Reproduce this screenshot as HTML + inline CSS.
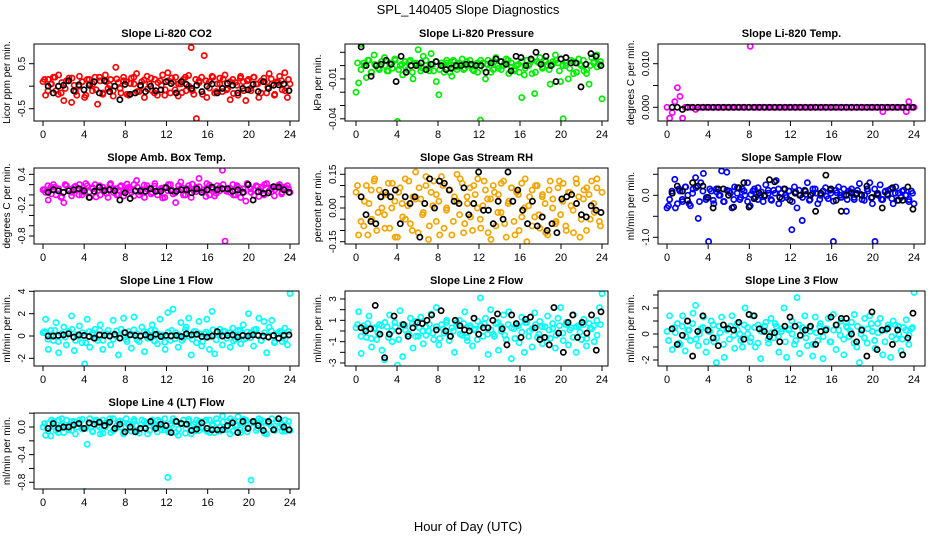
<!DOCTYPE html>
<html><head><meta charset="utf-8"><style>
html,body{margin:0;padding:0;background:#fff;}
svg{display:block;font-family:"Liberation Sans",sans-serif;}
</style></head><body>
<svg id="chart" width="936" height="540" viewBox="0 0 936 540">
<rect width="936" height="540" fill="#fff"/>
<text x="468" y="14" text-anchor="middle" font-size="13">SPL_140405  Slope Diagnostics</text>
<text x="468" y="531" text-anchor="middle" font-size="13">Hour of Day (UTC)</text>
</svg>
<script>
const xTicks=[0,4,8,12,16,20,24];
const co2Main=[0.1,-0.2,0.15,0.05,0.2,-0.1,0.25,-0.15,-0.32,0.12,0.18,-0.36,0.02,-0.2,0.22,0.1,-0.25,0.15,0.05,-0.1,0.2,-0.4,0.12,-0.18,0.25,-0.05,0.15,-0.22,0.42,0.08,-0.15,0.2,0.1,-0.2,0.18,0.05,0.28,-0.12,0.1,-0.25,0.22,0.05,-0.1,0.15,-0.2,0.12,0.25,-0.08,0.3,-0.15,0.1,0.2,-0.22,0.05,0.15,-0.1,0.24,0.86,-0.18,-0.72,0.12,0.2,0.68,-0.25,0.1,0.22,-0.15,0.05,0.18,-0.12,0.25,-0.05,-0.3,0.15,0.08,-0.2,0.22,0.1,-0.32,0.15,-0.1,0.2,0.05,-0.25,0.12,0.18,-0.15,0.28,0.05,-0.2,0.1,0.22,-0.08,0.3,-0.25,0.05];
const co2Band=[0.15,-0.1,0.05,0.2,-0.18,0.08,-0.05,0.12,0.18,-0.12,0.0,0.1,-0.2,0.15,0.05,-0.08,0.2,-0.15,0.1,0.02,-0.1,0.16,-0.05,0.12,-0.18,0.06,0.2,-0.12,0.0,0.14,-0.06,0.18,-0.15,0.08,0.02,-0.2,0.12,0.18,-0.08,0.05,-0.14,0.2,0.0,-0.1,0.15,0.08,-0.18,0.12,-0.04,0.2,-0.12,0.05,0.16,-0.08,0.1,-0.16,0.02,0.18,-0.1,0.12,-0.05,0.2,0.05,-0.15,0.1,-0.02,0.16,-0.18,0.08,0.12,-0.1,0.15];
const co2Black=[0,-0.15,0,0.02,0.12,-0.1,0.03,-0.08,0.02,0.1,-0.15,0.12,-0.12,0,-0.3,0.04,-0.18,-0.15,0.02,-0.12,0,-0.1,-0.08,0.1,0.06,-0.15,0.1,0.04,-0.05,0.02,-0.12,0,0.05,-0.15,-0.05,0.06,0.02,-0.15,-0.05,-0.08,0.04,-0.12,0.1,-0.05,0.02,0.03,0.05,-0.1];
const presMain=[-0.02,-0.013,0.016,0.002,-0.009,0.004,-0.005,0.008,0.0,-0.003,0.003,0.006,-0.004,0.002,-0.002,0.005,-0.042,0.0,-0.007,0.003,-0.003,0.004,-0.01,0.001,0.012,-0.004,0.007,0.0,-0.002,0.009,-0.004,-0.012,-0.022,0.002,-0.005,0.004,0.0,-0.008,0.003,-0.003,0.002,0.005,-0.002,0.0,0.004,-0.003,0.001,-0.005,-0.041,0.002,-0.01,0.004,0.0,-0.003,0.006,-0.002,0.003,0.0,0.005,-0.006,0.002,-0.003,0.0,-0.005,-0.024,-0.007,0.004,0.001,-0.006,-0.021,0.003,0.006,-0.002,0.004,0.0,-0.014,0.003,0.008,0.002,-0.012,-0.04,0.0,-0.01,0.004,-0.006,0.002,0.005,0.0,-0.004,-0.006,-0.014,0.006,0.003,0.008,0.001,-0.025];
const presBand=[0.002,-0.003,0.0,0.004,-0.005,0.001,-0.002,0.003,0.0,-0.004,0.002,0.004,-0.003,0.001,-0.001,0.003,-0.005,0.002,0.0,-0.002,0.004,-0.004,0.001,0.003,-0.003,0.0,0.002,-0.005,0.004,-0.001,0.001,-0.003,0.003,0.0,-0.004,0.002,0.004,-0.002,0.001,-0.005,0.003,0.0,-0.003,0.002,0.004,-0.001,-0.004,0.001,0.003,-0.002,0.0,0.004,-0.005,0.002,-0.001,0.003,-0.003,0.001,0.004,-0.004,0.0,0.002,-0.002,0.003,-0.005,0.001,0.004,-0.003,0.0,0.002,-0.001,0.003];
const presBlack=[0.014,0,-0.008,0,0.001,0.004,0.001,-0.012,0.007,-0.005,0,0,0.002,-0.003,0.001,0.003,0,-0.003,-0.002,0.0,0.0,0.001,0.001,0.0,0.0,-0.005,0.002,0.005,0.003,0.001,-0.004,0.007,0.006,0.0,0.005,0.010,0.001,0.007,0.0,-0.012,0.005,0.006,0.002,0.002,-0.016,0.001,0.009,0.007,0.0];
const tempMain=[0,-0.0025,-0.0012,0.0013,0.0045,0.0025,-0.0025,0,0,0,0,-0.0005,0,0,0,0,0,0,0,0,0,0,0,0,0,0,0,0,0,0,0,0,0.014,0,0,0,0,0,0,0,0,0,0,0,0,0,0,0,0,0,0,0,0,0,0,0,0,0,0,0,0,0,0,0,0,0,0,0,0,0,0,0,0,0,0,0,0,0,0,0,0,0,0,-0.001,0,0,0,0,0,0,0,0,-0.001,0.0013,0,0];
const tempBand=[];
const tempBlack=[0,0,-0.0005,0,0,0,0,0,0,0,0,0,0,0,0,0,0,0,0,0,0,0,0,0,0,0,0,0,0,0,0,0,0,0,0,0,0,0,0,0,0,0,0,0,0,0,0,0];
const ambMain=[0.1,0.05,-0.1,0.15,0.2,0.0,0.12,-0.05,-0.15,0.18,0.08,-0.02,0.15,0.1,0.2,0.0,0.05,0.18,-0.05,0.12,0.2,0.08,0.0,0.15,0.1,-0.05,0.22,0.05,0.12,0.0,0.18,-0.02,0.1,0.15,0.05,0.2,0.28,0.0,0.1,-0.05,0.18,0.12,0.05,0.22,0.0,0.1,-0.06,0.15,0.08,0.2,0.02,-0.15,0.1,0.25,0.0,0.12,0.18,-0.05,0.08,0.15,0.32,0.05,0.1,0.22,0.0,0.12,-0.02,0.18,0.08,0.48,-0.9,0.1,0.05,0.2,0.0,0.15,-0.05,0.12,-0.12,0.2,0.05,0.1,0.18,-0.03,0.15,0.0,0.22,0.08,0.12,-0.02,0.15,0.2,0.05,0.1,0.18,0.05];
const ambBand=[0.1,0.18,0.02,0.15,0.08,-0.03,0.2,0.12,0.05,0.17,0.0,0.1,0.22,0.06,0.14,-0.04,0.18,0.09,0.03,0.2,0.12,0.0,0.16,0.07,0.21,0.1,-0.02,0.15,0.05,0.19,0.11,0.02,0.17,0.08,0.13,-0.05,0.2,0.1,0.04,0.18,0.14,0.0,0.12,0.21,0.06,0.16,0.09,-0.03,0.19,0.11,0.03,0.15,0.2,0.07,0.13,0.0,0.18,0.1,0.05,0.22,0.12,-0.01,0.16,0.08,0.2,0.04,0.14,0.1,0.18,0.02,0.15,0.12];
const ambBlack=[0.05,0.1,0.08,0.05,0.08,0.1,0.12,0.08,-0.05,0.07,0.15,0.08,0.1,0.08,-0.1,0.04,-0.07,0.08,0.08,0.07,0.12,0.07,0.07,0.14,0.08,0.07,0.1,0.1,0.04,0.12,0.05,0.1,0.15,0.1,0.12,0.12,0.07,0.1,0.05,0.2,-0.1,0.06,0.03,0.04,0.16,0.15,0.1,0.05];
const rhMain=[0.07,-0.12,0.05,-0.08,0.1,0.02,-0.05,0.12,-0.1,0.08,0.0,-0.03,0.06,-0.09,0.11,0.03,-0.13,0.09,-0.04,0.13,0.01,-0.07,0.05,0.16,-0.11,0.04,-0.02,0.1,-0.14,0.07,0.12,-0.06,0.03,0.14,-0.09,0.0,0.08,-0.12,0.05,0.15,-0.03,0.11,-0.07,0.02,0.09,-0.1,0.06,0.13,-0.05,0.01,0.08,-0.11,0.04,0.1,-0.08,0.06,-0.02,0.12,-0.13,0.03,0.09,-0.06,0.07,-0.1,0.11,0.0,-0.15,0.05,0.08,-0.04,0.1,-0.09,0.06,0.02,-0.12,0.12,0.04,-0.07,0.09,-0.03,0.11,-0.08,0.07,0.01,-0.11,0.13,0.05,-0.05,0.08,-0.1,0.06,0.12,-0.02,0.09,-0.06,0.07];
const rhBand=[0.1,-0.06,0.03,-0.12,0.08,0.13,-0.02,0.05,-0.09,0.11,0.0,-0.13,0.07,0.02,-0.05,0.12,-0.1,0.04,0.09,-0.03,0.14,-0.08,0.01,0.06,-0.12,0.1,-0.01,0.08,-0.06,0.03,0.13,-0.11,0.05,-0.04,0.1,0.0,-0.09,0.12,0.04,-0.14,0.07,-0.02,0.11,-0.07,0.02,0.09,-0.12,0.06,-0.04,0.13,0.01,-0.08,0.1,-0.03,0.05,-0.11,0.08,0.0,-0.06,0.12,0.03,-0.1,0.07,-0.01,0.11,-0.13,0.04,0.09,-0.05,0.02,0.13,-0.08];
const rhBlack=[0.05,-0.03,-0.06,-0.07,0.05,0.07,0.05,0.08,-0.07,0.05,0.02,0.05,-0.13,0.02,0.13,0.0,0.12,0.11,0.08,0.03,0.02,0.09,-0.03,0.02,0.16,-0.01,-0.01,-0.07,0.03,-0.05,0.16,0.03,0.08,-0.01,-0.07,0.03,-0.08,-0.04,-0.1,-0.07,-0.11,0.04,0.05,0.06,0.02,-0.03,-0.04,0.01,-0.01,-0.02];
const flowMain=[-0.3,-0.1,0.05,0.38,-0.2,0.1,-0.15,0.2,0.0,-0.25,0.15,0.42,-0.55,0.3,0.52,-0.1,-1.1,0.1,-0.2,0.15,0.0,0.58,-0.15,0.55,0.1,-0.3,0.2,0.05,-0.1,0.15,0.0,0.3,-0.25,0.1,-0.05,0.18,0.0,-0.15,0.25,0.05,-0.1,0.12,0.35,-0.2,0.05,0.15,-0.05,0.1,-0.82,0.2,-0.3,0.0,-0.6,0.12,0.3,-0.1,0.05,0.15,-0.2,0.0,0.1,0.18,-0.08,0.05,-1.1,0.12,0.2,-0.05,0.0,-0.38,0.1,0.15,-0.1,0.05,0.28,-0.1,0.0,0.15,0.3,-0.2,-1.1,0.05,0.25,-0.1,0.1,0.0,0.15,-0.2,0.2,0.05,-0.05,0.12,0.0,-0.15,0.1,-0.2];
const flowBand=[-0.25,0.1,-0.3,0.15,-0.1,0.2,-0.2,0.05,0.18,-0.15,0.1,-0.05,0.15,-0.12,0.08,0.0,-0.15,0.12,0.05,-0.1,0.18,-0.05,0.1,-0.15,0.02,0.15,-0.1,0.08,-0.02,0.12,-0.12,0.05,0.15,-0.08,0.0,0.1,-0.15,0.08,0.12,-0.05,0.02,-0.12,0.15,0.05,-0.1,0.1,-0.02,0.12,-0.14,0.06,0.0,0.15,-0.1,0.08,-0.05,0.12,0.02,-0.12,0.1,-0.06,0.15,0.0,-0.1,0.08,0.12,-0.08,0.05,-0.12,0.1,0.0,-0.1,0.05];
const flowBlack=[0.05,0.22,0.1,-0.12,0.3,0.22,0.22,-0.05,-0.3,0.15,0.15,0.0,-0.28,0.18,0.3,-0.28,-0.08,0.05,0.0,0.37,0.32,-0.05,0.15,-0.12,0.05,0.0,0.1,0.0,-0.38,0.05,0.48,0.15,-0.12,-0.38,0.0,0.05,0.03,0.0,0.22,-0.05,0.03,-0.3,0.03,0.18,-0.12,-0.12,0.2,-0.33];
const l1Main=[0.3,1.5,-1.2,0.5,-0.4,1.2,-1.5,0.2,0.8,-0.8,0.4,1.8,-1.3,0.1,0.9,-0.6,-2.5,1.5,-1.0,0.3,0.6,-0.4,1.0,-1.2,0.2,0.5,-0.8,1.4,0.0,-1.7,0.6,1.6,-0.3,0.4,-1.1,1.7,0.2,-0.5,0.8,-1.4,0.3,-0.2,1.0,0.5,-0.7,1.5,0.1,-1.2,2.1,-0.4,2.4,0.3,-1.0,1.2,-0.2,0.8,1.6,-1.7,0.4,-0.6,1.3,-0.9,0.2,1.5,-1.2,2.2,-1.6,0.3,0.6,-0.8,0.4,0.1,-1.0,0.7,-0.3,0.5,-0.7,1.0,-0.2,2.0,0.3,-0.9,0.6,1.6,-0.4,1.3,-1.5,0.8,1.4,-0.6,0.2,0.4,-0.5,0.7,-0.8,3.8];
const l1Band=[0.4,-0.3,0.1,0.5,-0.5,0.2,-0.1,0.3,0.6,-0.4,0.0,0.3,-0.6,0.4,0.1,-0.2,0.5,-0.4,0.2,0.0,-0.3,0.45,-0.15,0.3,-0.5,0.15,0.55,-0.35,0.0,0.4,-0.2,0.5,-0.45,0.2,0.05,-0.55,0.35,0.5,-0.25,0.1,-0.4,0.55,0.0,-0.3,0.4,0.2,-0.5,0.35,-0.1,0.55,-0.35,0.15,0.45,-0.2,0.3,-0.45,0.05,0.5,-0.3,0.35,-0.15,0.55,0.1,-0.4,0.3,-0.05,0.45,-0.5,0.2,0.35,-0.3,0.4];
const l1Black=[0,0,0.05,0.1,0.2,-0.1,0.1,0.05,-0.05,-0.2,0.1,0.05,0,0.15,-0.2,0.3,0.1,0.05,0,0.1,-0.1,0.15,-0.05,0.05,0,0.05,-0.05,0.2,0.1,0.15,-0.05,-0.1,0,0.4,0,0.05,0.1,-0.1,0.05,0,0.1,0.05,0,-0.1,0.05,-0.2,0.05,0.1];
const l2Main=[0.3,1.8,-2.1,0.5,-0.6,1.4,-1.5,0.2,-0.8,0.6,-1.8,-2.7,0.4,1.5,-1.0,0.8,-3.2,1.9,-2.4,0.5,-0.3,1.2,-1.6,0.9,-0.5,1.3,-1.2,0.4,0.0,1.6,-0.8,2.2,-1.3,0.6,-0.2,1.0,-0.9,0.3,-2.0,0.8,1.0,-0.4,1.8,-0.9,0.5,-1.4,0.2,0.9,3.1,-0.5,1.2,-2.2,2.0,-0.3,0.7,-1.8,0.4,1.5,-0.8,1.8,-2.6,0.2,0.6,-1.1,1.3,-2.0,0.8,0.0,-1.5,1.7,-0.6,0.9,-1.2,0.4,1.4,-0.7,0.2,-1.6,1.2,2.2,-0.9,0.6,-1.3,0.3,1.5,-2.0,0.5,-0.8,1.1,-1.4,0.7,0.2,-1.0,1.0,2.2,3.5];
const l2Band=[0.6,-0.5,0.2,0.7,-0.7,0.3,-0.2,0.5,0.8,-0.6,0.0,0.4,-0.8,0.6,0.1,-0.3,0.7,-0.5,0.3,0.0,-0.4,0.6,-0.2,0.4,-0.7,0.2,0.8,-0.5,0.0,0.5,-0.3,0.7,-0.6,0.3,0.1,-0.8,0.5,0.7,-0.3,0.1,-0.5,0.8,0.0,-0.4,0.6,0.3,-0.7,0.5,-0.1,0.8,-0.5,0.2,0.6,-0.3,0.4,-0.6,0.1,0.7,-0.4,0.5,-0.2,0.8,0.1,-0.6,0.4,-0.1,0.6,-0.7,0.3,0.5,-0.4,0.6];
const l2Black=[0.3,0.0,0.2,2.4,-0.3,-2.5,-0.3,1.4,0.0,0.6,-0.5,0.3,0.8,0.7,1.0,1.5,0.1,1.9,0.0,-0.5,1.0,0.5,0.1,0.0,1.2,-0.3,0.3,0.3,1.0,1.6,0.2,-1.3,1.5,0.7,-0.6,1.1,1.3,0.3,-0.8,-0.6,-1.3,2.2,-0.2,-2.0,0.8,1.5,-0.6,0.8,-0.2,1.5,-1.8,1.8];
const l3Main=[0.2,1.4,-1.2,0.5,0.8,-0.8,1.4,-1.3,0.3,-0.5,1.6,2.2,-0.9,0.4,1.3,-1.4,0.2,1.0,-0.6,-2.2,0.6,1.3,-1.8,0.3,-0.4,1.4,-1.1,0.8,0.0,-1.0,2.0,0.5,-0.6,1.4,-1.0,0.7,-1.9,0.3,0.9,-0.7,1.2,-0.3,0.6,-1.4,0.2,2.0,-1.8,0.4,1.0,-0.8,2.8,-1.5,0.5,1.4,-0.9,0.2,-1.7,1.3,-0.5,0.8,-1.9,0.4,1.2,-0.6,1.5,-1.2,0.3,1.0,-1.6,0.6,-0.2,0.9,1.5,-1.0,-2.2,0.4,1.2,-0.7,1.4,0.2,-1.1,0.8,1.2,-1.6,0.3,0.7,-1.8,1.0,-0.4,0.6,-1.3,0.5,1.1,-0.8,0.4,3.2];
const l3Band=[-0.5,0.4,0.1,-0.7,0.6,-0.2,0.3,0.8,-0.4,0.0,0.5,-0.6,0.2,0.7,-0.3,0.1,-0.8,0.4,0.6,-0.1,0.3,-0.5,0.7,0.0,-0.3,0.5,-0.7,0.2,0.6,-0.4,0.1,0.8,-0.2,0.4,-0.6,0.3,0.0,-0.5,0.7,0.2,-0.3,0.5,-0.8,0.1,0.6,-0.2,0.4,-0.6,0.3,0.7,-0.1,-0.4,0.5,0.2,-0.7,0.6,0.0,-0.3,0.4,0.8,-0.5,0.1,0.3,-0.6,0.5,-0.2,0.7,0.0,-0.4,0.3,-0.1,0.5];
const l3Black=[0.4,-0.8,-0.1,1.0,-1.7,0.2,1.4,0.3,-0.3,-0.9,0.7,0.4,0.3,0.9,-0.4,1.5,1.4,0.4,0.2,-0.2,0.1,-0.6,0.6,1.3,0.6,-0.1,0.3,0.6,-0.8,0.2,0.3,1.3,0.7,1.2,1.2,0.0,-0.6,0.3,-1.7,1.7,-1.2,0.3,0.4,-0.8,0.3,-1.6,-0.3,1.6];
const l4Main=[0.0,-0.12,0.05,-0.13,0.08,-0.05,0.1,0.02,-0.08,0.1,0.03,-0.05,0.08,0.0,0.1,-0.03,-0.93,-0.25,0.12,-0.06,0.08,0.02,-0.1,0.1,0.0,0.05,-0.08,0.12,-0.02,0.08,0.0,-0.1,0.12,0.04,-0.06,0.08,0.02,-0.09,0.1,0.0,0.06,-0.05,0.1,0.02,-0.07,0.08,0.0,-0.04,-0.73,0.05,0.12,-0.08,-0.12,0.06,0.1,-0.02,0.08,-0.1,0.04,0.1,-0.05,0.0,0.08,-0.06,0.1,0.02,-0.08,0.06,0.0,0.16,-0.04,0.08,0.12,-0.06,0.02,0.15,-0.08,0.05,0.1,-0.02,-0.77,0.06,-0.05,0.12,0.0,0.08,-0.1,0.05,0.12,-0.03,0.08,0.0,-0.06,0.1,0.02,-0.05];
const l4Band=[0.05,-0.06,0.1,0.0,-0.08,0.12,0.03,-0.04,0.08,-0.1,0.06,0.11,-0.02,0.04,-0.07,0.1,0.0,-0.09,0.07,0.12,-0.05,0.02,0.09,-0.08,0.05,-0.01,0.11,-0.06,0.03,0.08,-0.1,0.06,0.0,0.1,-0.04,0.12,-0.07,0.02,0.09,-0.03,0.05,-0.09,0.11,0.01,-0.05,0.08,-0.02,0.1,-0.08,0.04,0.12,-0.06,0.07,0.0,-0.1,0.09,0.03,-0.04,0.11,-0.07,0.05,0.08,-0.02,0.1,-0.09,0.06,0.01,-0.05,0.12,0.03,-0.06,0.08];
const l4Black=[-0.02,0.05,-0.02,0.0,0.0,0.03,0.05,-0.02,0.06,0.04,0.07,0.02,0.07,-0.02,0.04,-0.07,0.0,-0.07,-0.02,-0.02,0.08,-0.02,0.04,0.02,-0.08,0.08,0.05,0.04,-0.05,-0.03,0.06,-0.02,-0.04,-0.04,-0.04,0.02,0.06,-0.08,0.08,-0.02,0.08,0.02,-0.05,0.08,-0.04,0.12,0.0,-0.04];
const co2Ticks=[0.5,0,-0.5], co2Labels=["0.5","","-0.5"];
const presTicks=[0.01,0,-0.01,-0.02,-0.03,-0.04], presLabels=["","","-0.01","","","-0.04"];
const tempTicks=[0.01,0.005,0], tempLabels=["0.010","","0.000"];
const ambTicks=[0.4,0.2,0,-0.2,-0.4,-0.6,-0.8], ambLabels=["0.4","","","-0.2","","","-0.8"];
const rhTicks=[0.15,0.1,0.05,0,-0.05,-0.1,-0.15], rhLabels=["0.15","","","0.00","","","-0.15"];
const flowTicks=[0.5,0,-0.5,-1], flowLabels=["","0.0","","-1.0"];
const l1Ticks=[4,2,0,-2], l1Labels=["4","2","0","-2"];
const l2Ticks=[3,2,1,0,-1,-2,-3], l2Labels=["3","","1","","-1","","-3"];
const l3Ticks=[3,2,1,0,-1,-2], l3Labels=["","2","","0","","-2"];
const l4Ticks=[0.2,0,-0.2,-0.4,-0.6,-0.8], l4Labels=["","0.0","","-0.4","","-0.8"];

const NS="http://www.w3.org/2000/svg";
const svg=document.getElementById('chart');
function mk(tag,attrs,parent){const e=document.createElementNS(NS,tag);for(const k in attrs)e.setAttribute(k,attrs[k]);(parent||svg).appendChild(e);return e;}
const cols=[{b0:34,b1:299,x0:43,x24:290},{b0:345,b1:608,x0:356,x24:602},{b0:658,b1:925,x0:667,x24:914}];
const rows=[{t:44,b:121},{t:168,b:244},{t:291,b:366},{t:413,b:489}];
const panels=[
 {name:'co2',title:'Slope Li-820 CO2',ylab:'Licor ppm per min.',c:0,r:0,z:86.2,k:45,main:co2Main,band:co2Band,black:co2Black,color:'#ff0000',ticks:co2Ticks,labels:co2Labels},
 {name:'pressure',title:'Slope Li-820 Pressure',ylab:'kPa per min.',c:1,r:0,z:65.6,k:1330,main:presMain,band:presBand,black:presBlack,color:'#00ee00',ticks:presTicks,labels:presLabels},
 {name:'temp',title:'Slope Li-820 Temp.',ylab:'degrees C per min.',c:2,r:0,z:107.3,k:4360,main:tempMain,band:tempBand,black:tempBlack,color:'#ff00ff',ticks:tempTicks,labels:tempLabels},
 {name:'amb-temp',title:'Slope Amb. Box Temp.',ylab:'degrees C per min.',c:0,r:1,z:194.9,k:51.4,main:ambMain,band:ambBand,black:ambBlack,color:'#ff00ff',ticks:ambTicks,labels:ambLabels},
 {name:'gas-rh',title:'Slope Gas Stream RH',ylab:'percent per min.',c:1,r:1,z:208,k:224.7,main:rhMain,band:rhBand,black:rhBlack,color:'#f7a400',ticks:rhTicks,labels:rhLabels},
 {name:'sample-flow',title:'Slope Sample Flow',ylab:'ml/min per min.',c:2,r:1,z:195.3,k:42,main:flowMain,band:flowBand,black:flowBlack,color:'#0000ff',ticks:flowTicks,labels:flowLabels},
 {name:'line1-flow',title:'Slope Line 1 Flow',ylab:'ml/min per min.',c:0,r:2,z:336,k:11.17,main:l1Main,band:l1Band,black:l1Black,color:'#00ffff',ticks:l1Ticks,labels:l1Labels},
 {name:'line2-flow',title:'Slope Line 2 Flow',ylab:'ml/min per min.',c:1,r:2,z:331,k:10.67,main:l2Main,band:l2Band,black:l2Black,color:'#00ffff',ticks:l2Ticks,labels:l2Labels},
 {name:'line3-flow',title:'Slope Line 3 Flow',ylab:'ml/min per min.',c:2,r:2,z:334,k:13,main:l3Main,band:l3Band,black:l3Black,color:'#00ffff',ticks:l3Ticks,labels:l3Labels},
 {name:'line4-flow',title:'Slope Line 4 (LT) Flow',ylab:'ml/min per min.',c:0,r:3,z:427,k:69.1,main:l4Main,band:l4Band,black:l4Black,color:'#00ffff',ticks:l4Ticks,labels:l4Labels}
];
panels.forEach(p=>{
  const C=cols[p.c],R=rows[p.r];
  const g=mk('g',{});
  
  
  const xs=h=>C.x0+(C.x24-C.x0)*h/24;
  const ys=v=>p.z-v*p.k;
  const clipId='clip-'+p.name;
  const cp=mk('clipPath',{id:clipId},g);mk('rect',{x:C.b0,y:R.t,width:C.b1-C.b0,height:R.b-R.t},cp);
  const pts=mk('g',{'clip-path':'url(#'+clipId+')'},g);
  p.band.forEach((v,i)=>{
    const c=mk('circle',{cx:xs(0.15+i*23.7/(p.band.length-1)),cy:ys(v),r:2.6,fill:'none',stroke:p.color,'stroke-width':1.7},pts);
    
    
  });
  p.main.forEach((v,i)=>{
    const c=mk('circle',{cx:xs(i*24/(p.main.length-1)),cy:ys(v),r:2.6,fill:'none',stroke:p.color,'stroke-width':1.7},pts);
    
    
  });
  p.black.forEach((v,i)=>{
    const c=mk('circle',{cx:xs(0.5+i*23.4/(p.black.length-1)),cy:ys(v),r:2.6,fill:'none',stroke:'#000','stroke-width':1.7},pts);
    
    
  });
  const box=mk('rect',{x:C.b0,y:R.t,width:C.b1-C.b0,height:R.b-R.t,fill:'none',stroke:'#000','stroke-width':1},g);
  
  
  const t=mk('text',{x:(C.b0+C.b1)/2,y:R.t-7,'text-anchor':'middle','font-size':11,'font-weight':'bold'},g);
  t.textContent=p.title;
  
  
  mk('line',{x1:C.x0,x2:C.x24,y1:R.b,y2:R.b,stroke:'#000'},g);
  xTicks.forEach(h=>{
    mk('line',{x1:xs(h),x2:xs(h),y1:R.b,y2:R.b+5,stroke:'#000'},g);
    const l=mk('text',{x:xs(h),y:R.b+17,'text-anchor':'middle','font-size':11},g);
    l.textContent=h;
    
    
  });
  p.ticks.forEach((v,i)=>{
    const y=ys(v);
    mk('line',{x1:C.b0-5,x2:C.b0,y1:y,y2:y,stroke:'#000'},g);
    if(p.labels[i]){
      const l=mk('text',{x:C.b0-9,y:y,'text-anchor':'middle','font-size':10,transform:'rotate(-90 '+(C.b0-9)+' '+y+')'},g);
      l.textContent=p.labels[i];
      
      
    }
  });
  const cy=(R.t+R.b)/2, ax=C.b0-24;
  const yl=mk('text',{x:ax,y:cy,'text-anchor':'middle','font-size':10,transform:'rotate(-90 '+ax+' '+cy+')'},g);
  yl.textContent=p.ylab;
  
  
});
</script>
</body></html>
